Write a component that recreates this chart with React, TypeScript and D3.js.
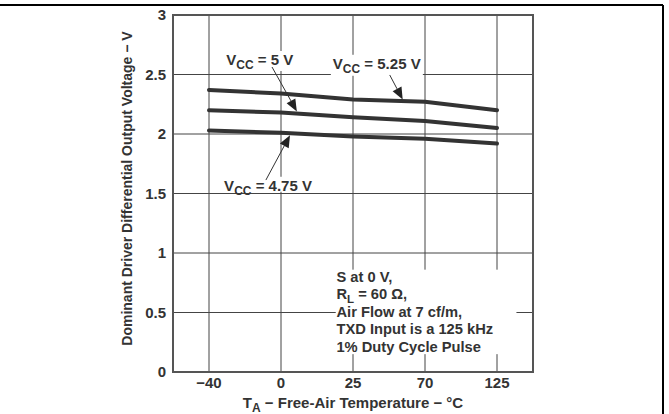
import { useEffect, useRef } from 'react';
import * as d3 from 'd3';

// Temperature categories (evenly spaced on the chart)
const temps = ['-40', '0', '25', '70', '125'];
const yTicks = [0, 0.5, 1, 1.5, 2, 2.5, 3];

// Differential output voltage (V) per supply voltage
const vcc525 = [2.37, 2.34, 2.29, 2.27, 2.2];
const vcc500 = [2.2, 2.18, 2.14, 2.11, 2.05];
const vcc475 = [2.03, 2.01, 1.98, 1.96, 1.92];

const seriesList = [vcc525, vcc500, vcc475];

// Annotation text, position as (temp index, volts)
const labels = [
  { sub: 'CC', rest: ' = 5 V', xi: 0.24, v: 2.58, w: 70, pad: 6 },
  { sub: 'CC', rest: ' = 5.25 V', xi: 1.72, v: 2.548, w: 88, pad: 7 },
  { sub: 'CC', rest: ' = 4.75 V', xi: 0.21, v: 1.523, w: 88, pad: 1 },
];
const arrows = [
  { x0: 0.875, v0: 2.563, x1: 1.22, v1: 2.19 },
  { x0: 2.51, v0: 2.496, x1: 2.69, v1: 2.29 },
  { x0: 0.79, v0: 1.613, x1: 1.125, v1: 1.99 },
];
const noteLines = [
  'S at 0 V,',
  'R|L| = 60 Ω,',
  'Air Flow at 7 cf/m,',
  'TXD Input is a 125 kHz',
  '1% Duty Cycle Pulse',
];

export default function App() {
  const svgRef = useRef<SVGSVGElement | null>(null);

  const W = 669;
  const H = 414;
  const margin = { top: 15, right: 136, bottom: 42, left: 173 };
  const innerW = W - margin.left - margin.right;
  const innerH = H - margin.top - margin.bottom;

  useEffect(() => {
    const svg = d3.select(svgRef.current);
    svg.selectAll('*').remove();
    const font = '"Liberation Sans", Arial, sans-serif';
    const ink = '#333';

    // page border pieces (top and right)
    svg.append('line').attr('x1', 0).attr('x2', 663).attr('y1', 5).attr('y2', 5)
      .attr('stroke', '#000').attr('stroke-width', 2);
    svg.append('line').attr('x1', 663).attr('x2', 663).attr('y1', 5).attr('y2', H)
      .attr('stroke', '#000').attr('stroke-width', 2);

    const g = svg.append('g').attr('transform', `translate(${margin.left},${margin.top})`);

    const x = d3.scalePoint<string>().domain(temps).range([0, innerW]).padding(0.5);
    const y = d3.scaleLinear().domain([0, 3]).range([innerH, 0]);
    const step = x.step();
    const xi = (i: number) => (x(temps[0]) as number) + i * step;

    // grid
    g.selectAll('.vgrid').data(temps).enter().append('line')
      .attr('x1', (d) => x(d) as number).attr('x2', (d) => x(d) as number)
      .attr('y1', 0).attr('y2', innerH)
      .attr('stroke', '#444').attr('stroke-width', 1);
    g.selectAll('.hgrid').data(yTicks.slice(1, -1)).enter().append('line')
      .attr('x1', 0).attr('x2', innerW)
      .attr('y1', (d) => y(d)).attr('y2', (d) => y(d))
      .attr('stroke', '#444').attr('stroke-width', 1);

    // curves
    const line = d3.line<number>().x((_, i) => x(temps[i]) as number).y((d) => y(d));
    seriesList.forEach((s) => {
      g.append('path').datum(s).attr('d', line).attr('fill', 'none')
        .attr('stroke', ink).attr('stroke-width', 4).attr('stroke-linecap', 'round');
    });

    // notes box
    const box = g.append('g');
    box.append('rect').attr('x', xi(1.76)).attr('y', y(0.86))
      .attr('width', xi(4.27) - xi(1.76)).attr('height', y(0.15) - y(0.86)).attr('fill', '#fff');
    noteLines.forEach((t, i) => {
      const txt = box.append('text').attr('x', xi(1.77)).attr('y', y(0.76) + i * 17.6)
        .attr('font-family', font).attr('font-weight', 'bold').attr('font-size', 14.7).attr('fill', ink);
      const parts = t.split('|');
      if (parts.length === 3) {
        txt.append('tspan').text(parts[0]);
        txt.append('tspan').text(parts[1]).attr('dy', 4).attr('font-size', 11.5);
        txt.append('tspan').text(parts[2]).attr('dy', -4);
      } else {
        txt.text(t);
      }
    });

    // VCC labels
    labels.forEach((l) => {
      const lx = xi(l.xi);
      const ly = y(l.v);
      g.append('rect').attr('x', lx - 2).attr('y', ly - 14).attr('width', l.w + 4).attr('height', 14 + l.pad)
        .attr('fill', '#fff');
      const t = g.append('text').attr('x', lx).attr('y', ly)
        .attr('font-family', font).attr('font-weight', 'bold').attr('font-size', 15).attr('fill', ink);
      t.append('tspan').text('V');
      t.append('tspan').text(l.sub).attr('dy', 4).attr('font-size', 12);
      t.append('tspan').text(l.rest).attr('dy', -4);
    });

    // arrows
    arrows.forEach((a) => {
      const x0 = xi(a.x0), y0 = y(a.v0), x1 = xi(a.x1), y1 = y(a.v1);
      const ang = Math.atan2(y1 - y0, x1 - x0);
      const len = 12, hw = 5;
      const bx = x1 - len * Math.cos(ang), by = y1 - len * Math.sin(ang);
      g.append('line').attr('x1', x0).attr('y1', y0).attr('x2', bx).attr('y2', by)
        .attr('stroke', ink).attr('stroke-width', 1);
      const pts = [
        [x1, y1],
        [bx + hw * Math.sin(ang), by - hw * Math.cos(ang)],
        [bx - hw * Math.sin(ang), by + hw * Math.cos(ang)],
      ];
      g.append('polygon').attr('points', pts.map((p) => p.join(',')).join(' ')).attr('fill', '#222');
    });

    // frame
    g.append('rect').attr('x', 0).attr('y', 0).attr('width', innerW).attr('height', innerH)
      .attr('fill', 'none').attr('stroke', '#555').attr('stroke-width', 2);

    // tick labels
    g.selectAll('.ylab').data(yTicks).enter().append('text')
      .attr('x', -7).attr('y', (d) => y(d) + 5).attr('text-anchor', 'end')
      .attr('font-family', font).attr('font-weight', 'bold').attr('font-size', 15).attr('fill', ink)
      .text((d) => String(d));
    g.selectAll('.xlab').data(temps).enter().append('text')
      .attr('x', (d) => x(d) as number).attr('y', innerH + 16).attr('text-anchor', 'middle')
      .attr('font-family', font).attr('font-weight', 'bold').attr('font-size', 15).attr('fill', ink)
      .text((d) => d.replace('-', '\u2212'));

    // axis titles
    const xt = g.append('text').attr('x', innerW / 2).attr('y', innerH + 36).attr('text-anchor', 'middle')
      .attr('font-family', font).attr('font-weight', 'bold').attr('font-size', 15).attr('fill', ink);
    xt.append('tspan').text('T');
    xt.append('tspan').text('A').attr('dy', 4).attr('font-size', 12);
    xt.append('tspan').text(' \u2212 Free-Air Temperature \u2212 \u00b0C').attr('dy', -4);

    g.append('text')
      .attr('transform', `translate(${-41},${innerH / 2 - 5}) rotate(-90)`)
      .attr('text-anchor', 'middle')
      .attr('font-family', font).attr('font-weight', 'bold').attr('font-size', 14).attr('fill', ink)
      .text('Dominant Driver Differential Output Voltage \u2212 V');
  }, []);

  return (
    <svg
      ref={svgRef}
      width={W}
      height={H}
      style={{ position: 'absolute', left: 0, top: 0, background: '#fff' }}
    ></svg>
  );
}
